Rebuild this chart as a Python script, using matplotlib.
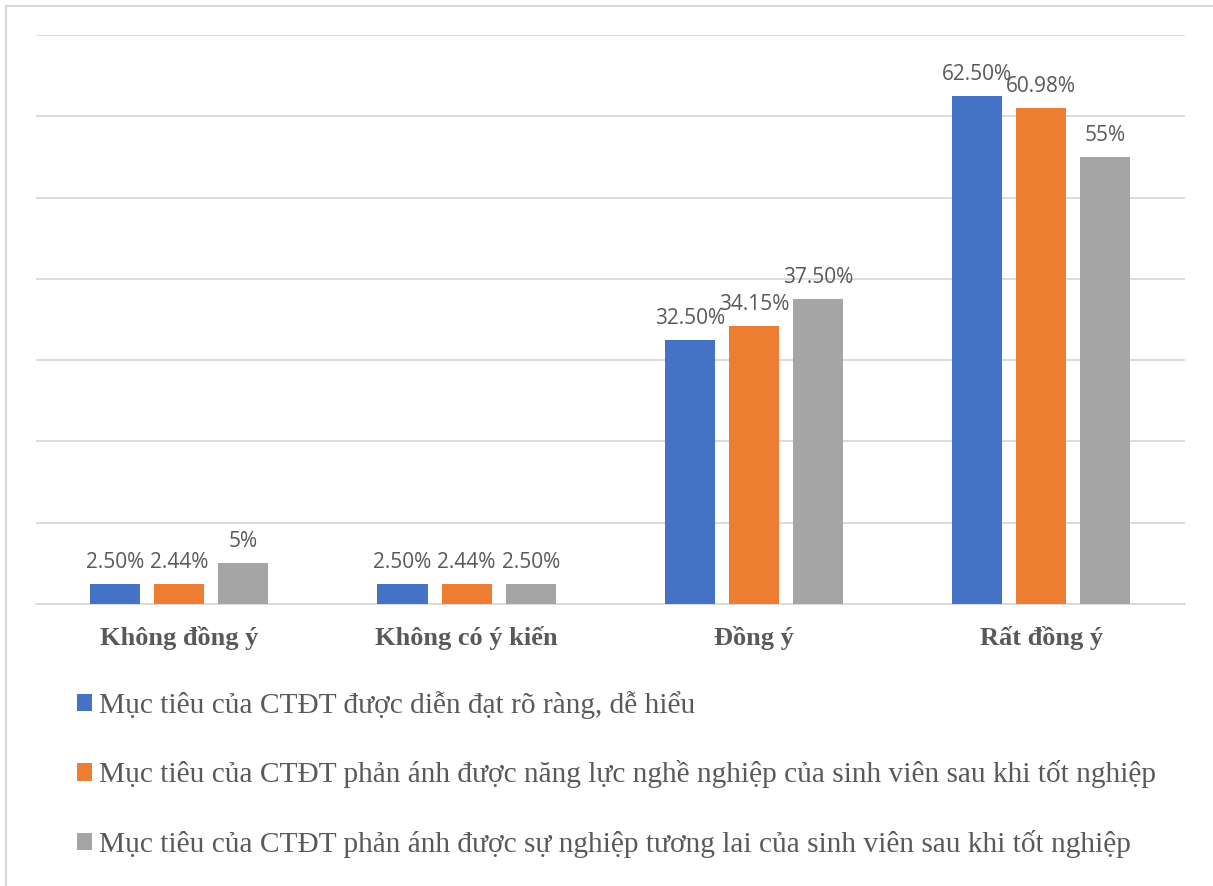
import numpy as np
import matplotlib.pyplot as plt
from matplotlib.patches import Rectangle, Patch

# Data
categories = ["Không đồng ý", "Không có ý kiến", "Đồng ý", "Rất đồng ý"]
series_names = [
    "Mục tiêu của CTĐT được diễn đạt rõ ràng, dễ hiểu",
    "Mục tiêu của CTĐT phản ánh được năng lực nghề nghiệp của sinh viên sau khi tốt nghiệp",
    "Mục tiêu của CTĐT phản ánh được sự nghiệp tương lai của sinh viên sau khi tốt nghiệp",
]
s1 = [2.50, 2.50, 32.50, 62.50]
s2 = [2.44, 2.44, 34.15, 60.98]
s3 = [5.0, 2.50, 37.50, 55.0]
labels1 = ["2.50%", "2.50%", "32.50%", "62.50%"]
labels2 = ["2.44%", "2.44%", "34.15%", "60.98%"]
labels3 = ["5%", "2.50%", "37.50%", "55%"]

colors = ["#4472C4", "#ED7D31", "#A5A5A5"]
text_color = "#595959"

W, H = 1213, 886
fig = plt.figure(figsize=(W / 100, H / 100), dpi=100)

# light border (top and left visible)
fig.patches.append(Rectangle((6 / W, -0.1), 1.2, 1.1 - 6 / H, transform=fig.transFigure,
                             fill=False, edgecolor="#D9D9D9", linewidth=1.5))

ax = fig.add_axes([35.5 / W, 1 - 604 / H, (1185 - 35.5) / W, (604 - 35) / H])

x = np.arange(len(categories))
bw = 50 / 287
step = 64 / 287
all_series = [s1, s2, s3]
all_labels = [labels1, labels2, labels3]
for i, (vals, labs) in enumerate(zip(all_series, all_labels)):
    bars = ax.bar(x + (i - 1) * step, vals, width=bw, color=colors[i], zorder=3)
    ax.bar_label(bars, labels=labs, padding=8, fontsize=15, color=text_color,
                 family="Open Sans")

ax.set_xlim(-0.5, len(categories) - 0.5)
ax.set_ylim(0, 70)
ax.set_yticks(np.arange(0, 71, 10))
ax.yaxis.grid(True, color="#D9D9D9", linewidth=1.3, zorder=0)
ax.tick_params(axis="y", left=False, labelleft=False)
ax.tick_params(axis="x", bottom=False)
ax.set_xticks(x)
ax.set_xticklabels(categories, fontsize=19, fontweight="bold", family="Liberation Serif",
                   color=text_color)
ax.tick_params(axis="x", pad=12)
for sp in ["top", "right", "left"]:
    ax.spines[sp].set_visible(False)
ax.spines["bottom"].set_color("#D9D9D9")
ax.spines["bottom"].set_linewidth(1.3)

handles = [Patch(facecolor=c) for c in colors]
fig.legend(handles, series_names, loc="upper left", bbox_to_anchor=(77 / W, 1 - 691 / H),
           frameon=False, borderpad=0, borderaxespad=0,
           prop={"family": "Liberation Serif", "size": 21.2},
           labelcolor=text_color, handlelength=0.52, handleheight=0.52, handletextpad=0.22,
           labelspacing=1.41)

fig.savefig("out.png", dpi=100)
